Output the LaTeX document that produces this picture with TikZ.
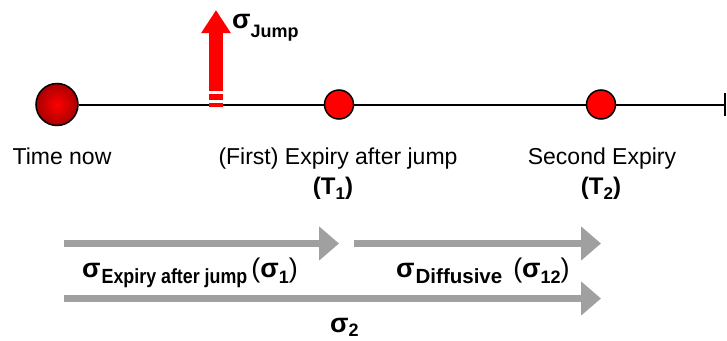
\documentclass[tikz,border=0pt]{standalone}
\usepackage{fontspec}
\setmainfont{Liberation Sans}
\usetikzlibrary{arrows.meta}
\definecolor{arrgray}{HTML}{A0A0A0}
\definecolor{ballred}{HTML}{FF0000}
\definecolor{darkball}{HTML}{A80000}
\newcommand{\lowsub}[3][6pt]{\raisebox{-#1}{\fontsize{#2}{#2}\selectfont\bfseries #3}}
\newcommand{\tsub}[1]{\raisebox{-5pt}{\fontsize{17}{17}\selectfont\bfseries #1}}
\newcommand{\sig}{{\fontsize{27}{27}\selectfont\bfseries σ}}
\newcommand{\paren}[1]{{\fontsize{27}{27}\selectfont #1}}
\begin{document}
\begin{tikzpicture}[x=1pt,y=-1pt,
  lbl/.style={font=\fontsize{23}{26}\selectfont, inner sep=0pt, anchor=base},
  blbl/.style={font=\fontsize{24}{26}\selectfont\bfseries, inner sep=0pt, anchor=base},
  slbl/.style={inner sep=0pt, anchor=base west},
  dot/.style={circle, draw=black, line width=1.5pt, fill=ballred, minimum size=29pt, inner sep=0pt},
  ball/.style={circle, draw=black, line width=1.5pt, inner color=ballred, outer color=darkball, minimum size=42pt, inner sep=0pt},
  grayarrow/.style={draw=arrgray, line width=7pt, -{Triangle[length=20pt,width=33pt]}},
  redarrow/.style={draw=ballred, line width=14pt, -{Triangle[length=23pt,width=28pt]}},
  timeline/.style={draw=black, line width=2pt}
]
\useasboundingbox (0,0) rectangle (727,340);

% timeline nodes
\node[ball] (now) at (57,104.5) {};
\node[dot] (x1) at (339,104.5) {};
\node[dot] (x2) at (601,104.5) {};
\coordinate (tick) at (725,104.5);
\coordinate (tickt) at (725,93);
\coordinate (tickb) at (725,116);

\draw[timeline] (now.east) -- (x1.west);
\draw[timeline] (x1.east) -- (x2.west);
\draw[timeline] (x2.east) -- (tick);
\draw[timeline] (tickt) -- (tickb);

% jump arrow
\coordinate (jb) at (216,91);
\coordinate (jt) at (216,10);
\draw[redarrow] (jb) -- (jt);
\fill[ballred] (209,94) rectangle (223,100);
\fill[ballred] (209,103) rectangle (223,107);
\node[slbl] (jlbl) at (232,28) {\sig\lowsub[9pt]{18}{Jump}};

% labels under timeline
\node[lbl] (tnow) at (62,164) {Time now};
\node[lbl] (e1) at (338,164) {(First) Expiry after jump};
\node[lbl] (e2) at (602,164) {Second Expiry};
\node[blbl] (t1) at (333,194) {(T\tsub{1})};
\node[blbl] (t2) at (601,194) {(T\tsub{2})};

% gray arrows
\coordinate (a1s) at (64,243.5);
\coordinate (a1e) at (339,243.5);
\coordinate (a2s) at (354,243.5);
\coordinate (a2e) at (601,243.5);
\coordinate (a3s) at (64,298.5);
\coordinate (a3e) at (601,298.5);
\draw[grayarrow] (a1s) -- (a1e);
\draw[grayarrow] (a2s) -- (a2e);
\draw[grayarrow] (a3s) -- (a3e);

\node[slbl] (l1) at (82,277) {\sig\hspace{1pt}\scalebox{0.87}[1]{\lowsub{20.5}{Expiry after jump}}\hspace{4pt}\paren{(}\sig\lowsub{18}{1}\paren{)}};
\node[slbl] (l2) at (396,277) {\sig\hspace{1pt}\lowsub{20.5}{Diffusive}\hspace{11pt}\paren{(}\sig\lowsub{18}{12}\paren{)}};
\node[slbl] (l3) at (330,332) {\sig\lowsub[4pt]{18}{2}};
\end{tikzpicture}
\end{document}
